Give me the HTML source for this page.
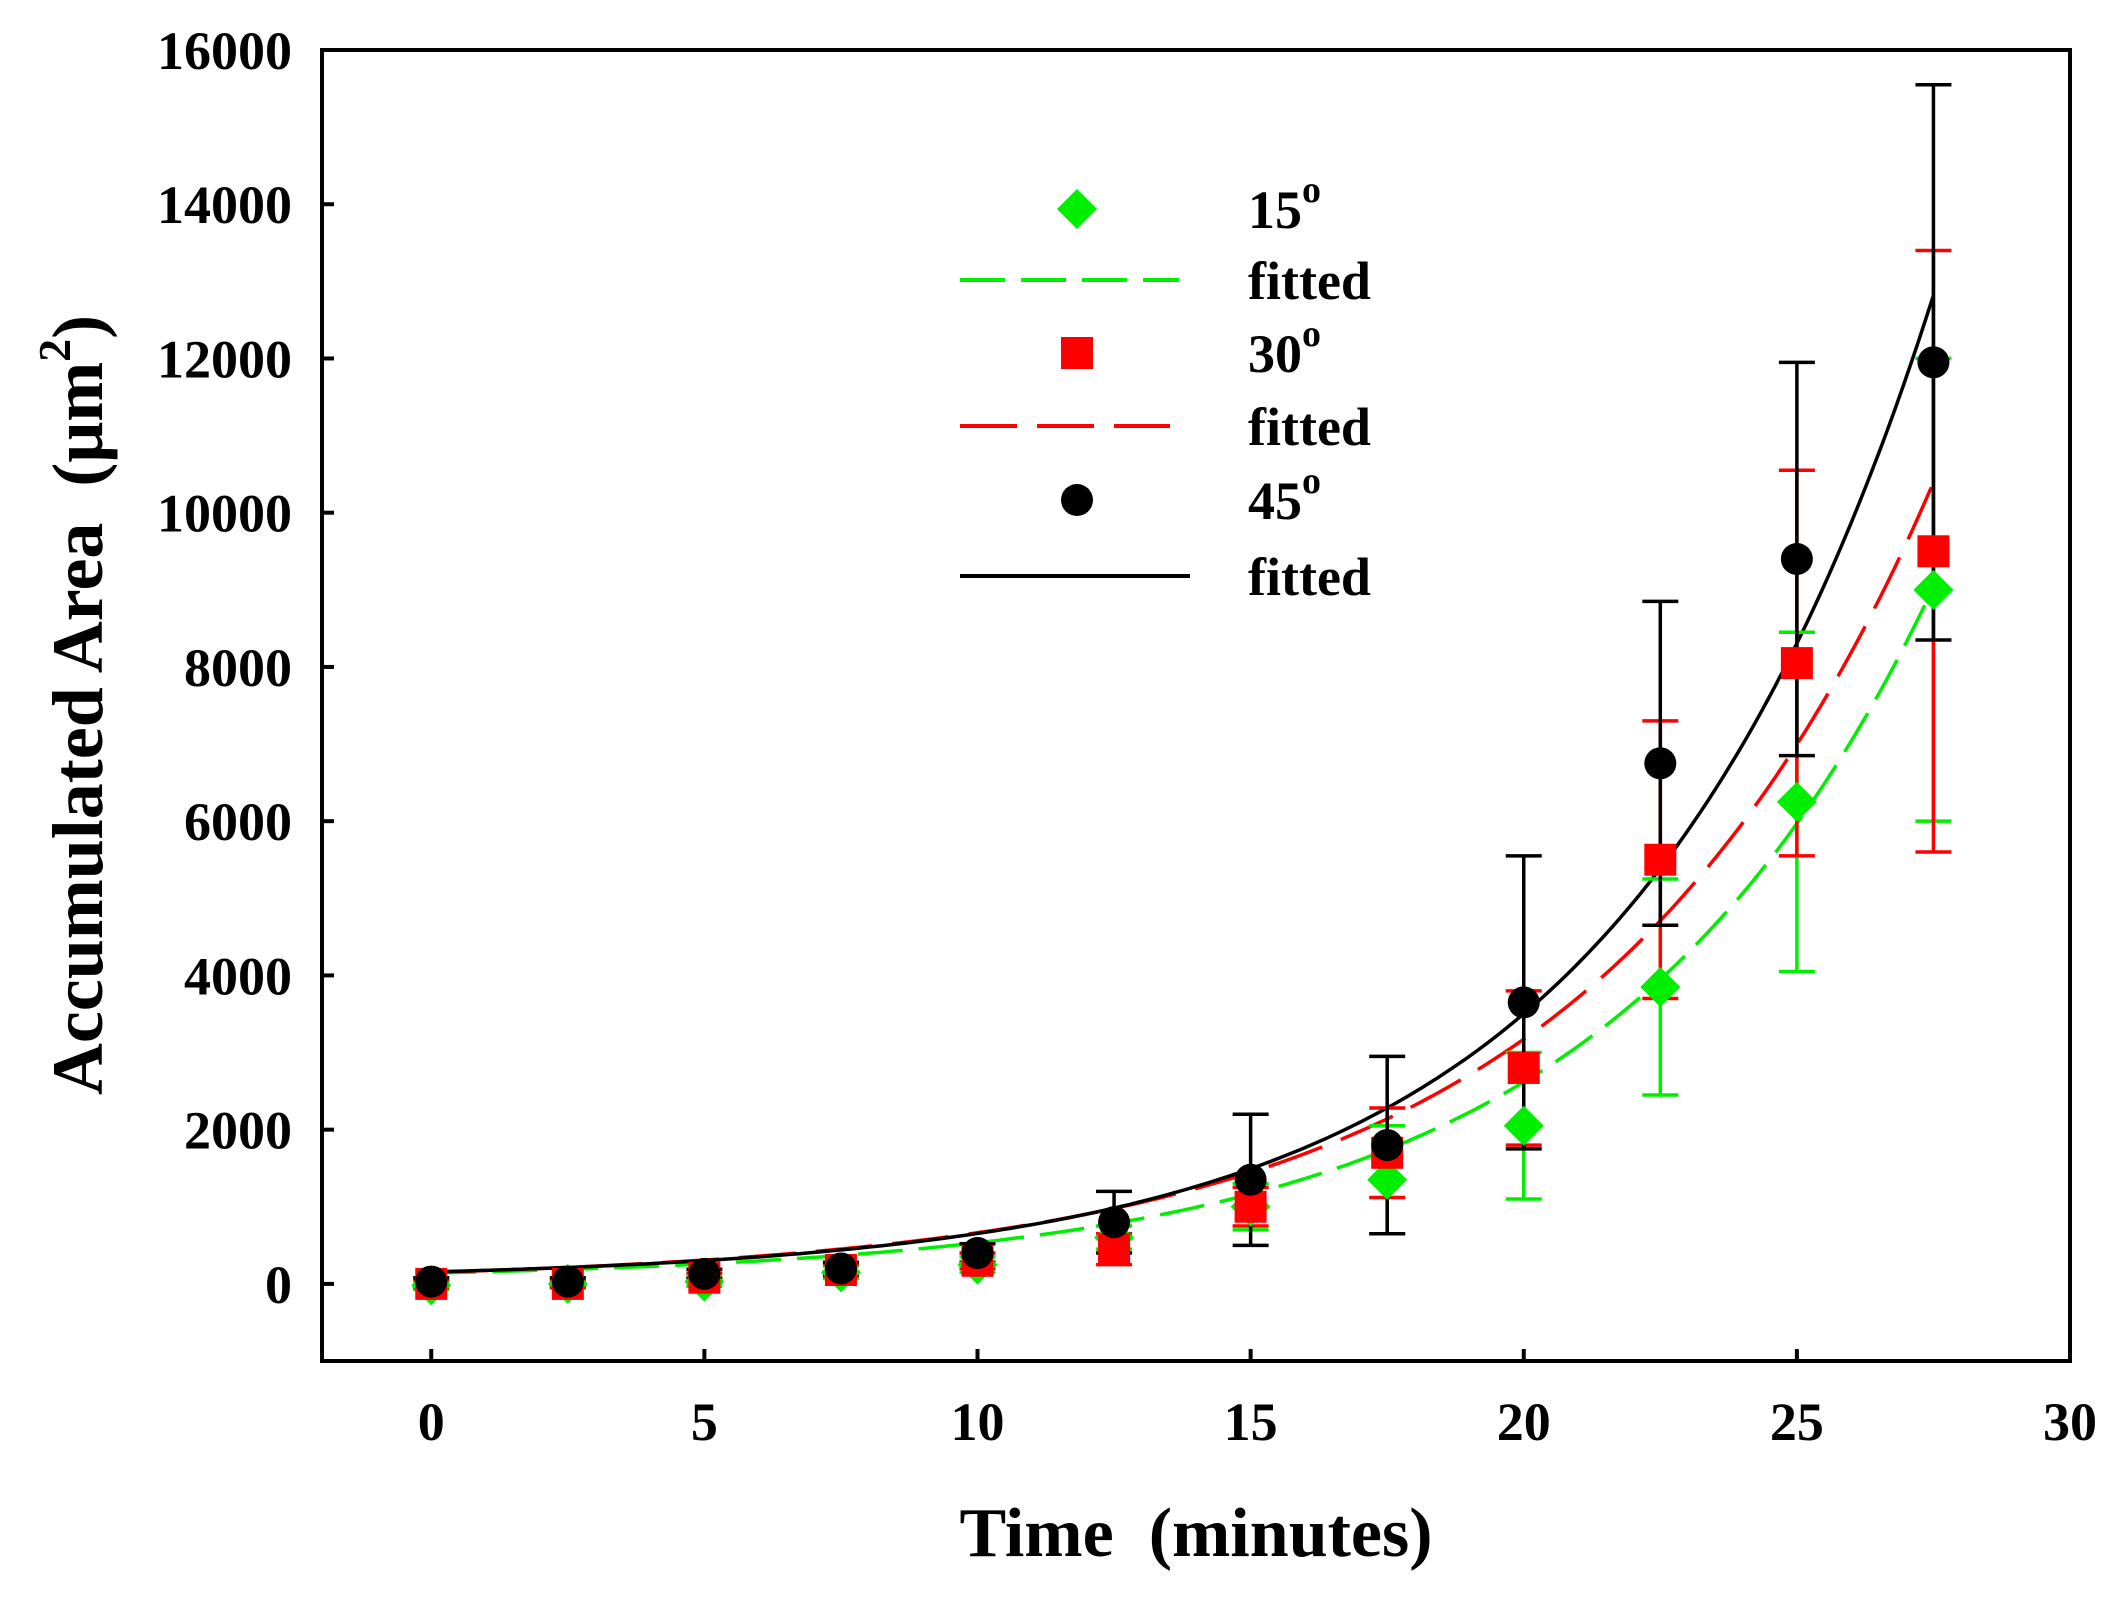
<!DOCTYPE html>
<html><head><meta charset="utf-8"><style>
html,body{margin:0;padding:0;background:#fff;}
svg text{font-family:"Liberation Serif",serif;font-weight:bold;fill:#000;}
</style></head><body>
<svg id="chart" width="2112" height="1593" viewBox="0 0 2112 1593" xmlns="http://www.w3.org/2000/svg">
<g id="plot"></g>
<g id="axes"></g>
<g id="legend"></g>
<text x="1196" y="1556" font-size="70" text-anchor="middle" xml:space="preserve">Time  (minutes)</text>
<text transform="translate(102,705) rotate(-90)" font-size="72" text-anchor="middle" xml:space="preserve">Accumulated Area  (μm<tspan dy="-32" font-size="46">2</tspan><tspan dy="32">)</tspan></text>
</svg>
<script>
const times = [0, 2.5, 5, 7.5, 10, 12.5, 15, 17.5, 20, 22.5, 25, 27.5];
const area15 = [-20, 0, 30, 150, 250, 600, 1000, 1350, 2050, 3850, 6250, 9000];
const err15 = [50, 50, 60, 80, 100, 150, 300, 700, 950, 1400, 2200, 3000];
const area30 = [0, 0, 80, 180, 300, 450, 1000, 1700, 2800, 5500, 8050, 9500];
const err30 = [50, 50, 60, 80, 100, 200, 250, 580, 1000, 1800, 2500, 3900];
const area45 = [30, 30, 130, 200, 400, 800, 1350, 1800, 3650, 6750, 9400, 11950];
const err45 = [50, 50, 60, 80, 120, 400, 850, 1150, 1900, 2100, 2550, 3600];
// fitted y = c + b*exp(k*t)
const fit15 = [50, 91, 0.167];
const fit30 = [18, 132, 0.1587];
const fit45 = [50, 105.5, 0.1744];
const xTicks = [0, 5, 10, 15, 20, 25, 30];
const yTicks = [0, 2000, 4000, 6000, 8000, 10000, 12000, 14000, 16000];

const NS = "http://www.w3.org/2000/svg";
const L = 322, R = 2070, T = 50, B = 1361;
const xMin = -2, xMax = 30, yMin = -1000, yMax = 16000;
function sx(v){ return L + (v - xMin) / (xMax - xMin) * (R - L); }
function sy(v){ return B - (v - yMin) / (yMax - yMin) * (B - T); }
function mk(tag, attrs, parent){
  const e = document.createElementNS(NS, tag);
  for (const k in attrs) e.setAttribute(k, attrs[k]);
  parent.appendChild(e); return e;
}
const plot = document.getElementById('plot');
const axes = document.getElementById('axes');
const legend = document.getElementById('legend');

function curve(p, color, dash, name){
  let d = "";
  for (let i = 0; i <= 200; i++){
    const t = 27.5 * i / 200;
    const v = p[0] + p[1] * Math.exp(p[2] * t);
    d += (i ? "L" : "M") + sx(t).toFixed(1) + "," + sy(v).toFixed(1);
  }
  const e = mk('path', {d: d, fill: 'none', stroke: color, 'stroke-width': 3.5}, plot);
  if (dash) e.setAttribute('stroke-dasharray', dash);
  
  
}
curve(fit15, '#00ee00', '45 16', 'fitted-curve-15');
curve(fit30, '#ff0000', '57 20', 'fitted-curve-30');
curve(fit45, '#000000', null, 'fitted-curve-45');

function errs(vals, er, color, name){
  vals.forEach((v, i) => {
    const x = sx(times[i]);
    const g = mk('g', {stroke: color, 'stroke-width': 3.5}, plot);
    
    
    mk('line', {x1: x, x2: x, y1: sy(v - er[i]), y2: sy(v + er[i])}, g);
    mk('line', {x1: x - 18, x2: x + 18, y1: sy(v - er[i]), y2: sy(v - er[i])}, g);
    mk('line', {x1: x - 18, x2: x + 18, y1: sy(v + er[i]), y2: sy(v + er[i])}, g);
  });
}
errs(area15, err15, '#00ee00', 'error-bar-15');
errs(area30, err30, '#ff0000', 'error-bar-30');
errs(area45, err45, '#000000', 'error-bar-45');

function diamond(x, y, p, name){
  const e = mk('polygon', {points: `${x},${y-20} ${x+20},${y} ${x},${y+20} ${x-20},${y}`, fill: '#00ee00'}, p);
  
  
}
function square(x, y, p, name){
  const e = mk('rect', {x: x - 16, y: y - 16, width: 32, height: 32, fill: '#ff0000'}, p);
  
  
}
function dot(x, y, p, name){
  const e = mk('circle', {cx: x, cy: y, r: 16, fill: '#000'}, p);
  
  
}
area15.forEach((v, i) => diamond(sx(times[i]), sy(v), plot, 'point-15'));
area30.forEach((v, i) => square(sx(times[i]), sy(v), plot, 'point-30'));
area45.forEach((v, i) => dot(sx(times[i]), sy(v), plot, 'point-45'));

const frame = mk('rect', {x: L, y: T, width: R - L, height: B - T, fill: 'none', stroke: '#000', 'stroke-width': 4}, axes);


xTicks.forEach(t => {
  const x = sx(t);
  mk('line', {x1: x, x2: x, y1: B, y2: B - 12, stroke: '#000', 'stroke-width': 4}, axes);
  const tx = mk('text', {x: x, y: 1440, 'font-size': 54, 'text-anchor': 'middle'}, axes);
  tx.textContent = t;
  
  
});
yTicks.forEach(t => {
  const y = sy(t);
  mk('line', {x1: L, x2: L + 12, y1: y, y2: y, stroke: '#000', 'stroke-width': 4}, axes);
  const tx = mk('text', {x: 292, y: y + 19, 'font-size': 54, 'text-anchor': 'end'}, axes);
  tx.textContent = t;
  
  
});

const legX = 1077, txtX = 1248;
const rows = [209, 280, 353, 426, 500, 576];
function legText(y, label, deg, name){
  const tx = mk('text', {x: txtX, y: y + 19, 'font-size': 54}, legend);
  tx.textContent = label;
  if (deg){ const s = mk('tspan', {dy: -26, 'font-size': 38}, tx); s.textContent = 'o'; }
  
  
}
diamond(legX, rows[0], legend, 'legend-marker-15');
legText(rows[0], '15', true, 'legend-label-15');
let ln = mk('line', {x1: 960, x2: 1179, y1: rows[1], y2: rows[1], stroke: '#00ee00', 'stroke-width': 4, 'stroke-dasharray': '45 16'}, legend);


legText(rows[1], 'fitted', false, 'legend-label-fitted-15');
square(legX, rows[2], legend, 'legend-marker-30');
legText(rows[2], '30', true, 'legend-label-30');
ln = mk('line', {x1: 960, x2: 1170, y1: rows[3], y2: rows[3], stroke: '#ff0000', 'stroke-width': 4, 'stroke-dasharray': '57 20'}, legend);


legText(rows[3], 'fitted', false, 'legend-label-fitted-30');
dot(legX, rows[4], legend, 'legend-marker-45');
legText(rows[4], '45', true, 'legend-label-45');
ln = mk('line', {x1: 960, x2: 1190, y1: rows[5], y2: rows[5], stroke: '#000', 'stroke-width': 4}, legend);


legText(rows[5], 'fitted', false, 'legend-label-fitted-45');
</script>
</body></html>
